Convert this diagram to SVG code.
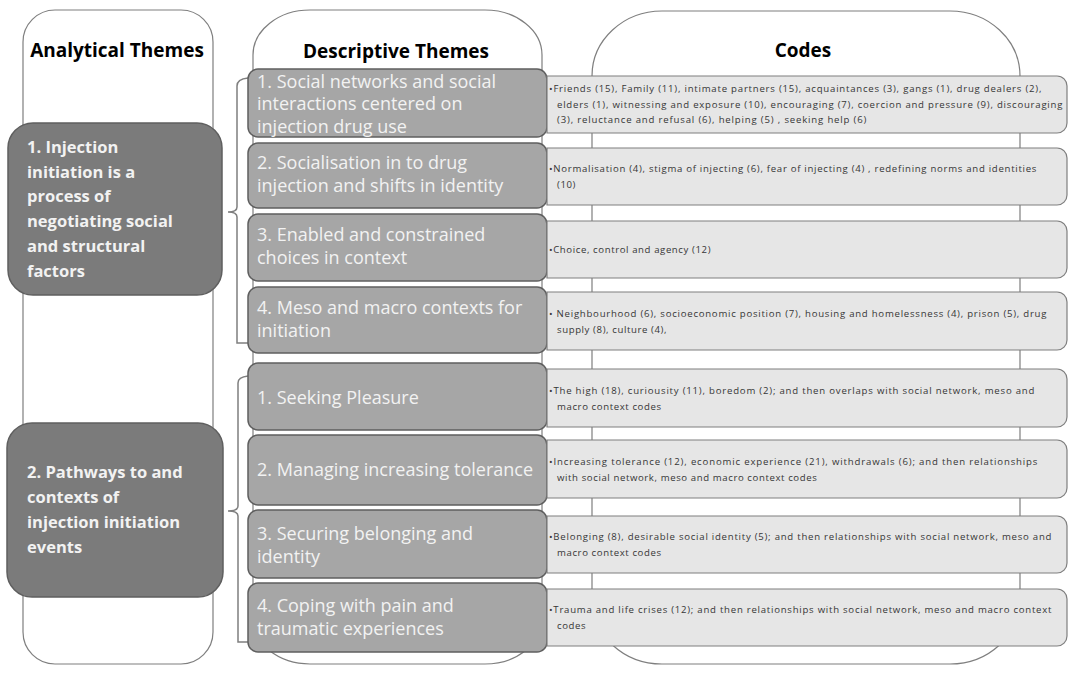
<svg xmlns="http://www.w3.org/2000/svg" width="1081" height="675" viewBox="0 0 1081 675">
<style>
.col{fill:#ffffff;stroke:#7f7f7f;stroke-width:1.2}
.head{font-family:"Open Sans","Liberation Sans",sans-serif;font-weight:bold;font-size:19px;fill:#000000}
.ana{fill:#7b7b7b;stroke:#5f5f5f;stroke-width:1.5}
.anat{font-family:"Open Sans","Liberation Sans",sans-serif;font-weight:bold;font-size:16.5px;fill:#f2f2f2}
.desc{fill:#a6a6a6;stroke:#5f5f5f;stroke-width:1.5}
.desct{font-family:"Open Sans","Liberation Sans",sans-serif;font-size:18px;fill:#f2f2f2}
.code{fill:#e6e6e6;stroke:#7f7f7f;stroke-width:1.2}
.codet{font-family:"Open Sans","Liberation Sans",sans-serif;font-size:9.6px;letter-spacing:0.6px;fill:#363636}
.br{fill:none;stroke:#7f7f7f;stroke-width:1.5}
</style>
<rect width="1081" height="675" fill="#ffffff"/>
<g id="columns">
<rect class="col" x="23" y="10" width="190" height="654" rx="32" ry="32"/>
<rect class="col" x="253" y="10" width="289" height="654" rx="57" ry="45"/>
<rect class="col" x="592" y="11" width="428" height="653" rx="70" ry="65"/>
<text class="head" x="117" y="57" text-anchor="middle">Analytical Themes</text>
<text class="head" x="396" y="58" text-anchor="middle">Descriptive Themes</text>
<text class="head" x="803" y="57" text-anchor="middle">Codes</text>
</g>
<g id="connectors">
<path class="br" d="M248,78 Q237,79 237,86 V207 Q237,212 228,212 Q237,212 237,217 V343 H248"/>
<path class="br" d="M248,376 Q238,377 238,383 V506 Q238,511 228,511 Q238,511 238,516 V642 H248"/>
</g>
<g id="analytical1">
<rect class="ana" x="8" y="123" width="214" height="172" rx="25" ry="25"/>
<text class="anat"><tspan x="27" y="153">1. Injection</tspan><tspan x="27" y="178">initiation  is a</tspan><tspan x="27" y="202">process of</tspan><tspan x="27" y="227">negotiating social</tspan><tspan x="27" y="252">and structural</tspan><tspan x="27" y="277">factors</tspan></text>
</g>
<g id="analytical2">
<rect class="ana" x="7" y="423" width="216" height="174" rx="25" ry="25"/>
<text class="anat"><tspan x="27" y="478">2. Pathways to and</tspan><tspan x="27" y="503">contexts of</tspan><tspan x="27" y="528">injection initiation</tspan><tspan x="27" y="553">events</tspan></text>
</g>
<g id="desc1-1">
<rect class="desc" x="248" y="69" width="299" height="68" rx="10"/>
<text class="desct"><tspan x="257" y="88">1. Social networks and social</tspan><tspan x="257" y="110">interactions centered on</tspan><tspan x="257" y="133">injection drug use</tspan></text>
</g>
<g id="desc1-2">
<rect class="desc" x="248" y="143" width="299" height="65" rx="10"/>
<text class="desct"><tspan x="257" y="169">2. Socialisation in to drug</tspan><tspan x="257" y="192">injection and shifts in identity</tspan></text>
</g>
<g id="desc1-3">
<rect class="desc" x="248" y="214" width="299" height="67" rx="10"/>
<text class="desct"><tspan x="257" y="241">3. Enabled and constrained</tspan><tspan x="257" y="264">choices in context</tspan></text>
</g>
<g id="desc1-4">
<rect class="desc" x="248" y="287" width="299" height="66" rx="10"/>
<text class="desct"><tspan x="257" y="314">4. Meso and macro contexts for</tspan><tspan x="257" y="337">initiation</tspan></text>
</g>
<g id="desc2-1">
<rect class="desc" x="248" y="363" width="299" height="67" rx="10"/>
<text class="desct" x="257" y="404">1. Seeking Pleasure</text>
</g>
<g id="desc2-2">
<rect class="desc" x="248" y="435" width="299" height="70" rx="10"/>
<text class="desct" x="257" y="476">2. Managing increasing tolerance</text>
</g>
<g id="desc2-3">
<rect class="desc" x="248" y="510" width="299" height="68" rx="10"/>
<text class="desct"><tspan x="257" y="540">3. Securing belonging and</tspan><tspan x="257" y="563">identity</tspan></text>
</g>
<g id="desc2-4">
<rect class="desc" x="248" y="583" width="299" height="69" rx="10"/>
<text class="desct"><tspan x="257" y="612">4. Coping with pain and</tspan><tspan x="257" y="635">traumatic experiences</tspan></text>
</g>
<g id="code1">
<path class="code" d="M547,76 H1057 A10,10 0 0 1 1067,86 V123 A10,10 0 0 1 1057,133 H547 Z"/>
<text class="codet"><tspan x="549" y="92" textLength="493" lengthAdjust="spacing">•Friends (15), Family (11), intimate partners (15), acquaintances (3), gangs (1), drug dealers (2),</tspan><tspan x="557" y="107.5" textLength="506" lengthAdjust="spacing">elders (1), witnessing and exposure (10), encouraging (7), coercion and pressure (9), discouraging</tspan><tspan x="557" y="123" textLength="310" lengthAdjust="spacing">(3), reluctance and refusal (6), helping (5) , seeking help (6)</tspan></text>
</g>
<g id="code2">
<path class="code" d="M547,148 H1057 A10,10 0 0 1 1067,158 V195 A10,10 0 0 1 1057,205 H547 Z"/>
<text class="codet"><tspan x="549" y="172" textLength="488" lengthAdjust="spacing">•Normalisation (4), stigma of injecting (6), fear of injecting (4) , redefining norms and identities</tspan><tspan x="557" y="188">(10)</tspan></text>
</g>
<g id="code3">
<path class="code" d="M547,221 H1057 A10,10 0 0 1 1067,231 V268 A10,10 0 0 1 1057,278 H547 Z"/>
<text class="codet" x="549" y="253">•Choice, control and agency (12)</text>
</g>
<g id="code4">
<path class="code" d="M547,292 H1057 A10,10 0 0 1 1067,302 V340 A10,10 0 0 1 1057,350 H547 Z"/>
<text class="codet"><tspan x="549" y="317" textLength="498" lengthAdjust="spacing">• Neighbourhood (6), socioeconomic position (7), housing and homelessness (4), prison (5), drug</tspan><tspan x="557" y="332.5">supply (8), culture (4),</tspan></text>
</g>
<g id="code5">
<path class="code" d="M547,369 H1057 A10,10 0 0 1 1067,379 V417 A10,10 0 0 1 1057,427 H547 Z"/>
<text class="codet"><tspan x="549" y="394" textLength="486" lengthAdjust="spacing">•The high (18), curiousity (11), boredom (2); and then  overlaps with social network, meso and</tspan><tspan x="557" y="409.5">macro context codes</tspan></text>
</g>
<g id="code6">
<path class="code" d="M547,440 H1057 A10,10 0 0 1 1067,450 V488 A10,10 0 0 1 1057,498 H547 Z"/>
<text class="codet"><tspan x="549" y="465" textLength="489" lengthAdjust="spacing">•Increasing tolerance (12), economic experience (21), withdrawals (6); and then  relationships</tspan><tspan x="557" y="480.5">with social network, meso and macro context codes</tspan></text>
</g>
<g id="code7">
<path class="code" d="M547,516 H1057 A10,10 0 0 1 1067,526 V563 A10,10 0 0 1 1057,573 H547 Z"/>
<text class="codet"><tspan x="549" y="540" textLength="503" lengthAdjust="spacing">•Belonging (8), desirable social identity (5); and then  relationships with social network, meso and</tspan><tspan x="557" y="555.5">macro context codes</tspan></text>
</g>
<g id="code8">
<path class="code" d="M547,589 H1057 A10,10 0 0 1 1067,599 V636 A10,10 0 0 1 1057,646 H547 Z"/>
<text class="codet"><tspan x="549" y="613" textLength="503" lengthAdjust="spacing">•Trauma and life crises (12); and then relationships with social network, meso and macro context</tspan><tspan x="557" y="628.5">codes</tspan></text>
</g>
</svg>
